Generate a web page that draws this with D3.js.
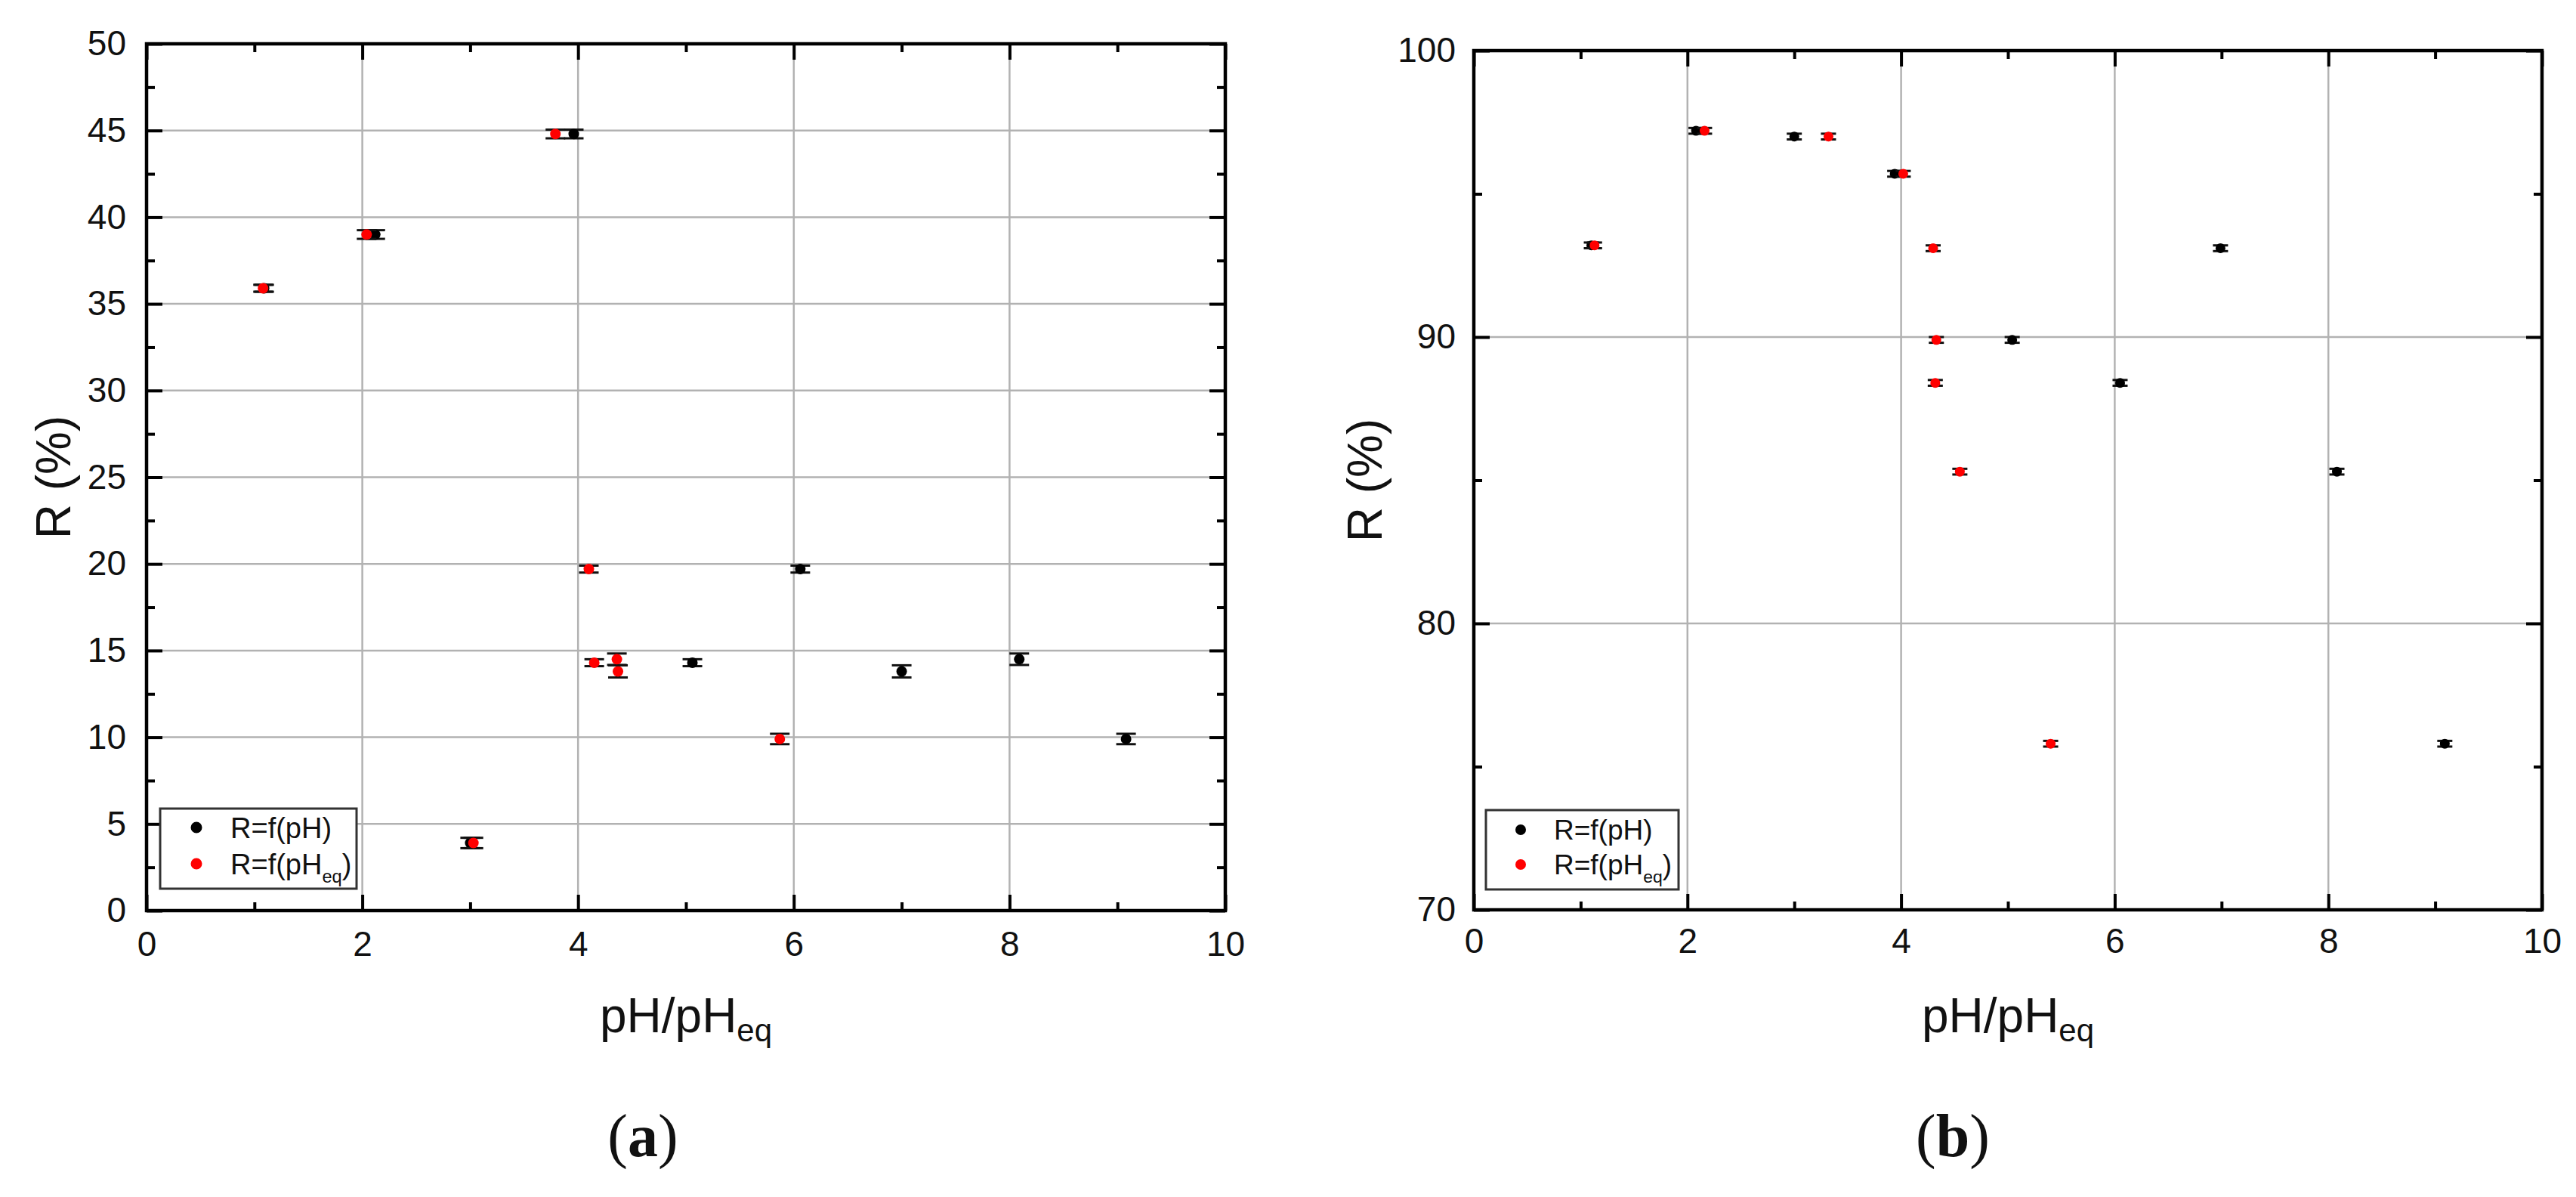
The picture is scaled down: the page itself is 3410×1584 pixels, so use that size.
<!DOCTYPE html>
<html>
<head>
<meta charset="utf-8">
<script src="https://cdn.jsdelivr.net/npm/d3@7"></script>
<style>
  body { margin: 0; background: #fff; }
  text { font-family: "Liberation Sans", Arial, sans-serif; fill: #111; }
  text.panel-label { font-family: "Liberation Serif", "Times New Roman", serif; }
</style>
</head>
<body>
<div class="chart"></div>
<script>
// panel (a)
const phA = [1.09, 2.12, 3.0, 3.96, 5.06, 6.06, 7.0, 8.09, 9.08]
const phEqA = [1.08, 2.04, 3.03, 3.79, 4.15, 4.10, 4.37, 4.36, 5.87]
const rA = [35.9, 39.0, 3.9, 44.8, 14.3, 19.7, 13.8, 14.5, 9.9]
const errA = [0.2, 0.25, 0.3, 0.25, 0.2, 0.2, 0.35, 0.33, 0.3]

// panel (b)
const phB = [1.10, 2.08, 3.0, 3.94, 5.04, 6.05, 6.99, 8.08, 9.09]
const phEqB = [1.13, 2.16, 3.32, 4.02, 4.33, 4.32, 4.30, 4.55, 5.40]
const rB = [93.2, 97.2, 97.0, 95.7, 89.9, 88.4, 93.1, 85.3, 75.8]
const errB = [0.1, 0.1, 0.1, 0.1, 0.1, 0.1, 0.1, 0.1, 0.1]

const xTicks = [0, 2, 4, 6, 8, 10]
const yTicksA = [0, 5, 10, 15, 20, 25, 30, 35, 40, 45, 50]
const yTicksB = [70, 80, 90, 100]
const legendLabels = ["R=f(pH)", "R=f(pH", "eq", ")"]
const panelLabels = ["a", "b"]

const width = 3410
const height = 1584

const svg = d3.select(".chart").append("svg")
  .attr("width", width).attr("height", height)
  .attr("viewBox", `0 0 ${width} ${height}`)

svg.append("rect").attr("width", width).attr("height", height).attr("fill", "#fff")

const drawPanel = cfg => {
  const xScale = d3.scaleLinear().domain([0, 10]).range([cfg.left, cfg.right])
  const yScale = d3.scaleLinear().domain(cfg.yDomain).range([cfg.bottom, cfg.top])
  const g = svg.append("g")

  // grid
  g.selectAll(".gy").data(cfg.yTicks.filter(d => d > cfg.yDomain[0] && d < cfg.yDomain[1]))
    .enter().append("line")
    .attr("x1", cfg.left).attr("x2", cfg.right)
    .attr("y1", d => yScale(d)).attr("y2", d => yScale(d))
    .attr("stroke", "#b2b2b2").attr("stroke-width", 2.5)
  g.selectAll(".gx").data(xTicks.filter(d => d > 0 && d < 10))
    .enter().append("line")
    .attr("y1", cfg.top).attr("y2", cfg.bottom)
    .attr("x1", d => xScale(d)).attr("x2", d => xScale(d))
    .attr("stroke", "#b2b2b2").attr("stroke-width", 2.5)

  // axes, ticks inward on all four sides
  const minorX = d3.range(1, 10, 2)
  const minorY = cfg.minorY
  const axes = [
    [d3.axisBottom(xScale).tickValues(xTicks), d3.axisBottom(xScale).tickValues(minorX), `translate(0,${cfg.bottom})`, true],
    [d3.axisTop(xScale).tickValues(xTicks), d3.axisTop(xScale).tickValues(minorX), `translate(0,${cfg.top})`, false],
    [d3.axisLeft(yScale).tickValues(cfg.yTicks), d3.axisLeft(yScale).tickValues(minorY), `translate(${cfg.left},0)`, true],
    [d3.axisRight(yScale).tickValues(cfg.yTicks), d3.axisRight(yScale).tickValues(minorY), `translate(${cfg.right},0)`, false]
  ]
  axes.forEach(([major, minor, tr, labels]) => {
    const a = g.append("g").attr("transform", tr)
      .call(major.tickSize(-21).tickSizeOuter(0).tickPadding(labels ? cfg.pad : 0).tickFormat(labels ? d3.format("d") : ""))
    a.select(".domain").remove()
    a.selectAll("line").attr("stroke", "#000").attr("stroke-width", 4)
    a.selectAll("text").attr("font-size", 46).attr("fill", "#111")
    const b = g.append("g").attr("transform", tr)
      .call(minor.tickSize(-11).tickSizeOuter(0).tickFormat(""))
    b.select(".domain").remove()
    b.selectAll("line").attr("stroke", "#000").attr("stroke-width", 4)
  })
  g.selectAll(".tick text").filter(function () { return this.textContent === "" }).remove()

  // frame
  g.append("rect")
    .attr("x", cfg.left).attr("y", cfg.top)
    .attr("width", cfg.right - cfg.left).attr("height", cfg.bottom - cfg.top)
    .attr("fill", "none").attr("stroke", "#000").attr("stroke-width", 4.5)

  // points with error bars; black first, red on top
  const series = [
    { x: cfg.ph, color: "#000" },
    { x: cfg.phEq, color: "#ff0000" }
  ]
  series.forEach(s => {
    const pts = g.append("g").selectAll("g").data(cfg.r.map((r, i) => ({ x: s.x[i], r, e: cfg.err[i] })))
      .enter().append("g")
    pts.append("line")
      .attr("x1", d => xScale(d.x)).attr("x2", d => xScale(d.x))
      .attr("y1", d => yScale(d.r - d.e)).attr("y2", d => yScale(d.r + d.e))
      .attr("stroke", "#111").attr("stroke-width", 2.5)
    ;[-1, 1].forEach(sign => {
      pts.append("line")
        .attr("x1", d => xScale(d.x) - cfg.cap).attr("x2", d => xScale(d.x) + cfg.cap)
        .attr("y1", d => yScale(d.r + sign * d.e)).attr("y2", d => yScale(d.r + sign * d.e))
        .attr("stroke", "#111").attr("stroke-width", 3)
    })
    pts.append("circle")
      .attr("cx", d => xScale(d.x)).attr("cy", d => yScale(d.r))
      .attr("r", cfg.dot).attr("fill", s.color)
  })

  // legend
  const lg = cfg.legend
  g.append("rect").attr("x", lg.x).attr("y", lg.y).attr("width", lg.w).attr("height", lg.h)
    .attr("fill", "#fff").attr("stroke", "#333").attr("stroke-width", 3)
  ;["#000", "#ff0000"].forEach((c, i) => {
    const cy = lg.y + lg.row0 + i * lg.rowGap
    g.append("circle").attr("cx", lg.x + lg.mx).attr("cy", cy).attr("r", lg.dot).attr("fill", c)
    const t = g.append("text").attr("x", lg.x + lg.tx).attr("y", cy).attr("dy", "0.36em")
      .attr("font-size", lg.fs)
    if (i === 0) {
      t.text(legendLabels[0])
    } else {
      t.append("tspan").text(legendLabels[1])
      t.append("tspan").attr("font-size", lg.fs * 0.62).attr("dy", lg.fs * 0.3).text(legendLabels[2])
      t.append("tspan").attr("dy", -lg.fs * 0.3).text(legendLabels[3])
    }
  })

  // axis titles
  g.append("text")
    .attr("transform", `translate(${cfg.yTitleX},${(cfg.top + cfg.bottom) / 2}) rotate(-90)`)
    .attr("text-anchor", "middle").attr("dy", "0.36em").attr("font-size", 64)
    .text("R (%)")
  const xt = g.append("text")
    .attr("x", (cfg.left + cfg.right) / 2).attr("y", 1366)
    .attr("text-anchor", "middle").attr("font-size", 64)
  xt.append("tspan").text("pH/pH")
  xt.append("tspan").attr("font-size", 42).attr("dy", 12).text("eq")

  // panel label
  const pl = g.append("text").attr("class", "panel-label")
    .attr("x", cfg.labelX).attr("y", 1530)
    .attr("text-anchor", "middle").attr("font-size", 80)
  pl.append("tspan").text("(")
  pl.append("tspan").attr("font-weight", "bold").text(cfg.label)
  pl.append("tspan").text(")")
}

drawPanel({
  left: 194, right: 1622, top: 58, bottom: 1205,
  yDomain: [0, 50], yTicks: yTicksA, minorY: d3.range(2.5, 50, 5),
  ph: phA, phEq: phEqA, r: rA, err: errA,
  cap: 13, dot: 7, pad: 27,
  legend: { x: 212, y: 1070, w: 260, h: 106, mx: 48, tx: 93, row0: 25, rowGap: 48, dot: 7.5, fs: 38 },
  yTitleX: 70, labelX: 851, label: panelLabels[0]
})

drawPanel({
  left: 1951, right: 3365, top: 67, bottom: 1204,
  yDomain: [70, 100], yTicks: yTicksB, minorY: d3.range(75, 100, 10),
  ph: phB, phEq: phEqB, r: rB, err: errB,
  cap: 10, dot: 6.5, pad: 24,
  legend: { x: 1967, y: 1072, w: 255, h: 105, mx: 46, tx: 90, row0: 26, rowGap: 46, dot: 7, fs: 37 },
  yTitleX: 1806, labelX: 2585, label: panelLabels[1]
})
</script>
</body>
</html>
